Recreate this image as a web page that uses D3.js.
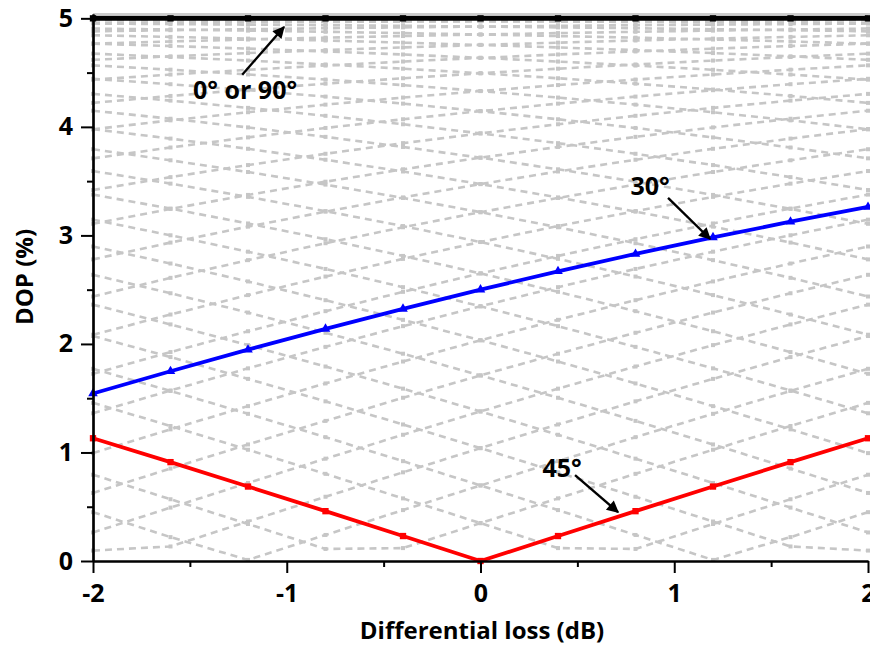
<!DOCTYPE html>
<html>
<head>
<meta charset="utf-8">
<script src="https://cdn.jsdelivr.net/npm/d3@7"></script>
<style>
  html, body { margin: 0; padding: 0; background: #fff; }
  svg { display: block; font-family: "Open Sans", Lato, sans-serif; font-weight: bold; }
</style>
</head>
<body>
<svg id="chart" width="870" height="648"></svg>
<script>
// Differential loss sample points (dB)
const lossDb = [-2, -1.6, -1.2, -0.8, -0.4, 0, 0.4, 0.8, 1.2, 1.6, 2];

// Highlighted curves: DOP (%) vs differential loss
const dop0or90 = [5, 5, 5, 5, 5, 5, 5, 5, 5, 5, 5];
const dop30 = [1.543, 1.748, 1.947, 2.139, 2.323, 2.500, 2.669, 2.829, 2.982, 3.126, 3.262];
const dop45 = [1.131, 0.911, 0.686, 0.459, 0.230, 0, 0.230, 0.459, 0.686, 0.911, 1.131];

// Background family of curves, one per input angle (odd degrees)
const dop01 = [4.995, 4.996, 4.996, 4.996, 4.997, 4.997, 4.997, 4.997, 4.998, 4.998, 4.998];
const dop03 = [4.957, 4.961, 4.964, 4.967, 4.970, 4.973, 4.975, 4.977, 4.979, 4.981, 4.983];
const dop05 = [4.880, 4.891, 4.900, 4.909, 4.917, 4.924, 4.931, 4.937, 4.942, 4.947, 4.952];
const dop07 = [4.767, 4.787, 4.805, 4.822, 4.837, 4.851, 4.864, 4.876, 4.887, 4.897, 4.906];
const dop09 = [4.618, 4.650, 4.680, 4.707, 4.732, 4.755, 4.776, 4.796, 4.813, 4.829, 4.844];
const dop11 = [4.435, 4.482, 4.526, 4.565, 4.602, 4.636, 4.667, 4.695, 4.721, 4.745, 4.767];
const dop13 = [4.221, 4.285, 4.344, 4.398, 4.448, 4.494, 4.536, 4.575, 4.611, 4.644, 4.675];
const dop15 = [3.978, 4.060, 4.135, 4.205, 4.270, 4.330, 4.385, 4.436, 4.483, 4.527, 4.567];
const dop17 = [3.710, 3.810, 3.903, 3.990, 4.070, 4.145, 4.214, 4.279, 4.338, 4.393, 4.443];
const dop19 = [3.418, 3.537, 3.648, 3.752, 3.850, 3.940, 4.024, 4.102, 4.175, 4.242, 4.304];
const dop21 = [3.107, 3.244, 3.373, 3.495, 3.609, 3.716, 3.815, 3.908, 3.995, 4.075, 4.149];
const dop23 = [2.779, 2.934, 3.081, 3.219, 3.350, 3.473, 3.589, 3.697, 3.798, 3.892, 3.979];
const dop25 = [2.437, 2.609, 2.772, 2.928, 3.075, 3.214, 3.345, 3.468, 3.584, 3.692, 3.794];
const dop27 = [2.085, 2.271, 2.450, 2.621, 2.784, 2.939, 3.086, 3.224, 3.355, 3.477, 3.593];
const dop29 = [1.725, 1.925, 2.117, 2.302, 2.480, 2.650, 2.811, 2.965, 3.110, 3.247, 3.376];
const dop31 = [1.361, 1.571, 1.775, 1.973, 2.164, 2.347, 2.523, 2.691, 2.850, 3.001, 3.145];
const dop33 = [0.994, 1.213, 1.427, 1.636, 1.838, 2.034, 2.222, 2.403, 2.576, 2.741, 2.898];
const dop35 = [0.627, 0.852, 1.074, 1.291, 1.504, 1.710, 1.910, 2.103, 2.289, 2.467, 2.637];
const dop37 = [0.263, 0.492, 0.719, 0.943, 1.163, 1.378, 1.588, 1.792, 1.989, 2.180, 2.362];
const dop39 = [0.096, 0.134, 0.364, 0.592, 0.817, 1.040, 1.258, 1.471, 1.678, 1.879, 2.073];
const dop41 = [0.450, 0.220, 0.010, 0.240, 0.469, 0.696, 0.920, 1.141, 1.356, 1.567, 1.771];
const dop43 = [0.795, 0.569, 0.341, 0.111, 0.119, 0.349, 0.577, 0.803, 1.025, 1.244, 1.457];
const dop47 = [1.457, 1.244, 1.025, 0.803, 0.577, 0.349, 0.119, 0.111, 0.341, 0.569, 0.795];
const dop49 = [1.771, 1.567, 1.356, 1.141, 0.920, 0.696, 0.469, 0.240, 0.010, 0.220, 0.450];
const dop51 = [2.073, 1.879, 1.678, 1.471, 1.258, 1.040, 0.817, 0.592, 0.364, 0.134, 0.096];
const dop53 = [2.362, 2.180, 1.989, 1.792, 1.588, 1.378, 1.163, 0.943, 0.719, 0.492, 0.263];
const dop55 = [2.637, 2.467, 2.289, 2.103, 1.910, 1.710, 1.504, 1.291, 1.074, 0.852, 0.627];
const dop57 = [2.898, 2.741, 2.576, 2.403, 2.222, 2.034, 1.838, 1.636, 1.427, 1.213, 0.994];
const dop59 = [3.145, 3.001, 2.850, 2.691, 2.523, 2.347, 2.164, 1.973, 1.775, 1.571, 1.361];
const dop61 = [3.376, 3.247, 3.110, 2.965, 2.811, 2.650, 2.480, 2.302, 2.117, 1.925, 1.725];
const dop63 = [3.593, 3.477, 3.355, 3.224, 3.086, 2.939, 2.784, 2.621, 2.450, 2.271, 2.085];
const dop65 = [3.794, 3.692, 3.584, 3.468, 3.345, 3.214, 3.075, 2.928, 2.772, 2.609, 2.437];
const dop67 = [3.979, 3.892, 3.798, 3.697, 3.589, 3.473, 3.350, 3.219, 3.081, 2.934, 2.779];
const dop69 = [4.149, 4.075, 3.995, 3.908, 3.815, 3.716, 3.609, 3.495, 3.373, 3.244, 3.107];
const dop71 = [4.304, 4.242, 4.175, 4.102, 4.024, 3.940, 3.850, 3.752, 3.648, 3.537, 3.418];
const dop73 = [4.443, 4.393, 4.338, 4.279, 4.214, 4.145, 4.070, 3.990, 3.903, 3.810, 3.710];
const dop75 = [4.567, 4.527, 4.483, 4.436, 4.385, 4.330, 4.270, 4.205, 4.135, 4.060, 3.978];
const dop77 = [4.675, 4.644, 4.611, 4.575, 4.536, 4.494, 4.448, 4.398, 4.344, 4.285, 4.221];
const dop79 = [4.767, 4.745, 4.721, 4.695, 4.667, 4.636, 4.602, 4.565, 4.526, 4.482, 4.435];
const dop81 = [4.844, 4.829, 4.813, 4.796, 4.776, 4.755, 4.732, 4.707, 4.680, 4.650, 4.618];
const dop83 = [4.906, 4.897, 4.887, 4.876, 4.864, 4.851, 4.837, 4.822, 4.805, 4.787, 4.767];
const dop85 = [4.952, 4.947, 4.942, 4.937, 4.931, 4.924, 4.917, 4.909, 4.900, 4.891, 4.880];
const dop87 = [4.983, 4.981, 4.979, 4.977, 4.975, 4.973, 4.970, 4.967, 4.964, 4.961, 4.957];
const dop89 = [4.998, 4.998, 4.997, 4.997, 4.997, 4.997, 4.997, 4.996, 4.996, 4.996, 4.995];

const gridCurves = [
  dop01, dop03, dop05, dop07, dop09, dop11, dop13, dop15, dop17, dop19, dop21,
  dop23, dop25, dop27, dop29, dop31, dop33, dop35, dop37, dop39, dop41, dop43,
  dop47, dop49, dop51, dop53, dop55, dop57, dop59, dop61, dop63, dop65, dop67,
  dop69, dop71, dop73, dop75, dop77, dop79, dop81, dop83, dop85, dop87, dop89
];

// Axis ticks
const xTicks = [-2, -1, 0, 1, 2];
const xMinorTicks = [-1.5, -0.5, 0.5, 1.5];
const yTicks = [0, 1, 2, 3, 4, 5];
const yMinorTicks = [0.5, 1.5, 2.5, 3.5, 4.5];

// Annotation labels (text anchor point, arrow tail, arrow tip) in data units
const labels = [
  { text: "0° or 90°", x: -1.215, y: 4.26, ax: -1.23, ay: 4.48, bx: -1.014, by: 4.92 },
  { text: "30°", x: 0.875, y: 3.37, ax: 0.968, ay: 3.345, bx: 1.185, by: 2.967 },
  { text: "45°", x: 0.421, y: 0.774, ax: 0.488, ay: 0.792, bx: 0.71, by: 0.45 }
];

const svg = d3.select("#chart");

const x = d3.scaleLinear().domain([-2, 2]).range([93, 868]);
const y = d3.scaleLinear().domain([0, 5.04]).range([561, 14]);

const line = d3.line()
  .x((d, i) => x(lossDb[i]))
  .y(d => y(d));

// Arrowhead marker
svg.append("defs").append("marker")
  .attr("id", "arrowHead")
  .attr("viewBox", "0 0 10 10")
  .attr("refX", 9).attr("refY", 5)
  .attr("markerUnits", "userSpaceOnUse")
  .attr("markerWidth", 16).attr("markerHeight", 12)
  .attr("orient", "auto")
  .append("path")
  .attr("d", "M0,0 L10,5 L0,10 z")
  .attr("fill", "#000");

// Top frame line
svg.append("line")
  .attr("x1", x(-2)).attr("x2", 870)
  .attr("y1", y(5.04)).attr("y2", y(5.04))
  .attr("stroke", "#9a9a9a").attr("stroke-width", 1.2);

// Background curves
const grid = svg.append("g");
grid.selectAll("path")
  .data(gridCurves)
  .join("path")
  .attr("d", line)
  .attr("fill", "none")
  .attr("stroke", "#c6c6c6")
  .attr("stroke-width", 2.6)
  .attr("stroke-dasharray", "7,5");

grid.selectAll("g.pts")
  .data(gridCurves)
  .join("g")
  .attr("class", "pts")
  .selectAll("rect")
  .data(d => d)
  .join("rect")
  .attr("x", (d, i) => x(lossDb[i]) - 2)
  .attr("y", d => y(d) - 2)
  .attr("width", 4).attr("height", 4)
  .attr("fill", "#c6c6c6");

// Highlighted curves
function drawCurve(values, color, width, shape) {
  const g = svg.append("g");
  g.append("path")
    .datum(values)
    .attr("d", line)
    .attr("fill", "none")
    .attr("stroke", color)
    .attr("stroke-width", width)
    .attr("stroke-linejoin", "round");
  g.selectAll("path.mk")
    .data(values)
    .join("path")
    .attr("class", "mk")
    .attr("transform", (d, i) => `translate(${x(lossDb[i])},${y(d)})`)
    .attr("d", d3.symbol().type(shape).size(40))
    .attr("fill", color);
}

drawCurve(dop0or90, "#000000", 5, d3.symbolSquare);
drawCurve(dop30, "#0000ff", 3.8, d3.symbolTriangle);
drawCurve(dop45, "#ff0000", 3.8, d3.symbolSquare);

// Axes
const plain = d => String(d);
const xAxis = d3.axisBottom(x).tickValues(xTicks).tickSize(12).tickSizeOuter(0)
  .tickPadding(11).tickFormat(plain);
const xMinor = d3.axisBottom(x).tickValues(xMinorTicks).tickSize(6).tickSizeOuter(0)
  .tickFormat("");
const yAxis = d3.axisLeft(y).tickValues(yTicks).tickSize(12).tickSizeOuter(0)
  .tickPadding(8).tickFormat(plain);
const yMinor = d3.axisLeft(y).tickValues(yMinorTicks).tickSize(6).tickSizeOuter(0)
  .tickFormat("");

function styleAxis(g) {
  g.select(".domain").attr("stroke", "#000").attr("stroke-width", 2.2);
  g.selectAll(".tick line").attr("stroke", "#000").attr("stroke-width", 2);
  g.selectAll(".tick text")
    .attr("fill", "#000")
    .style("font-family", "'Open Sans', Lato, sans-serif")
    .style("font-weight", "bold")
    .style("font-size", "25px");
}

svg.append("g").attr("transform", `translate(0,${y(0)})`).call(xMinor).call(styleAxis);
svg.append("g").attr("transform", `translate(0,${y(0)})`).call(xAxis).call(styleAxis);
svg.append("g").attr("transform", `translate(${x(-2)},0)`).call(yMinor).call(styleAxis);
svg.append("g").attr("transform", `translate(${x(-2)},0)`).call(yAxis).call(styleAxis);

// Axis titles
svg.append("text")
  .attr("x", 482).attr("y", 639)
  .attr("text-anchor", "middle")
  .style("font-size", "24px")
  .text("Differential loss (dB)");

svg.append("text")
  .attr("transform", "translate(33,277) rotate(-90)")
  .attr("text-anchor", "middle")
  .style("font-size", "24px")
  .text("DOP (%)");

// Annotations with arrows
const ann = svg.append("g");
ann.selectAll("line")
  .data(labels)
  .join("line")
  .attr("x1", d => x(d.ax)).attr("y1", d => y(d.ay))
  .attr("x2", d => x(d.bx)).attr("y2", d => y(d.by))
  .attr("stroke", "#000").attr("stroke-width", 2.4)
  .attr("marker-end", "url(#arrowHead)");
ann.selectAll("text")
  .data(labels)
  .join("text")
  .attr("x", d => x(d.x)).attr("y", d => y(d.y))
  .attr("text-anchor", "middle")
  .style("font-size", "25px")
  .text(d => d.text);
</script>
</body>
</html>
